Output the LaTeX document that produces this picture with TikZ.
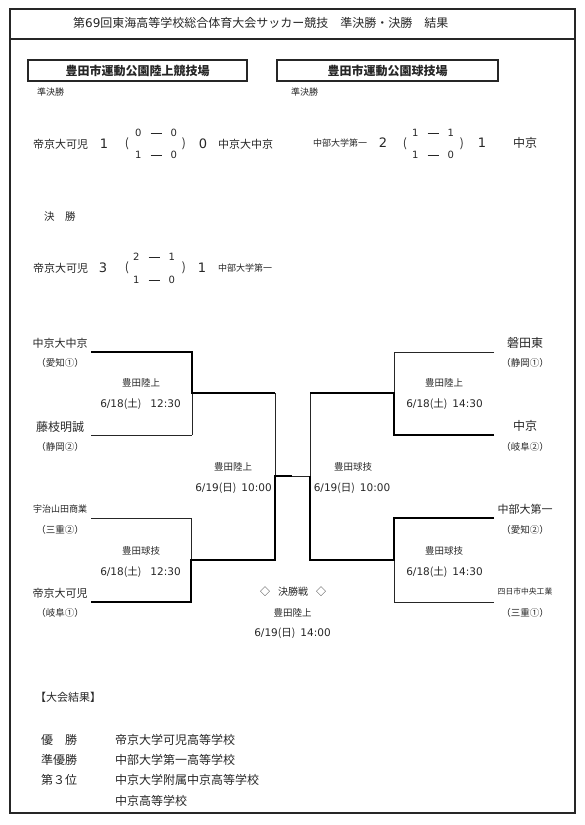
\documentclass[tikz,border=0pt]{standalone}
\usepackage{fontspec}
\setmainfont{Noto Sans CJK JP}
\newfontfamily\numf{DejaVu Sans}
\newcommand{\sdash}{\hspace{9pt}\rule[2.8pt]{11pt}{0.7pt}\hspace{9pt}}
\newcommand{\dte}[3]{{\numf #1}(#2)\hspace{5pt}{\numf #3}}
\begin{document}
\begin{tikzpicture}[x=1pt,y=-1pt,
  txt/.style={inner sep=0pt, text=black!85},
  fs/.style={font=\fontsize{#1}{#1}\selectfont},
  venue/.style={draw=black!85, line width=1.1pt, inner sep=0pt, minimum height=21pt, font=\fontsize{12}{12}\selectfont\bfseries, text=black!85},
  frame/.style={draw=black!85, line width=1.6pt},
  thk/.style={draw=black, line width=2.6pt, line join=miter},
  thn/.style={draw=black!85, line width=0.8pt}
]
\useasboundingbox (0,0) rectangle (584,825);
% frame
\draw[frame] (10,9) rectangle (575,813);
\coordinate (fl) at (10,39);
\coordinate (fr) at (575,39);
\draw[frame] (fl) -- (fr);
\node[txt,fs=12,anchor=west] (title) at (73,23) {第{\numf 69}回東海高等学校総合体育大会サッカー競技　準決勝・決勝　結果};
% venues
\node[venue, minimum width=219pt] (v1) at (137.5,70.5) {豊田市運動公園陸上競技場};
\node[venue, minimum width=221pt] (v2) at (387.5,70.5) {豊田市運動公園球技場};
\node[txt,fs=9,anchor=west] (sf1) at (37,92) {準決勝};
\node[txt,fs=9,anchor=west] (sf2) at (291,92) {準決勝};
% left semifinal score
\node[txt,fs=11,anchor=west] (s1a) at (33,144) {帝京大可児};
\node[txt,fs=13] (s1b) at (104,144) {\numf 1};
\node[txt,fs=12] (s1c) at (127,144) {(};
\node[txt,fs=10] (s1d) at (156,133) {\numf 0\sdash 0};
\node[txt,fs=10] (s1e) at (156,155) {\numf 1\sdash 0};
\node[txt,fs=12] (s1f) at (184,144) {)};
\node[txt,fs=13] (s1g) at (203,144) {\numf 0};
\node[txt,fs=11,anchor=west] (s1h) at (218,144) {中京大中京};
% right semifinal score
\node[txt,fs=9,anchor=west] (s2a) at (313,143) {中部大学第一};
\node[txt,fs=13] (s2b) at (383,143) {\numf 2};
\node[txt,fs=12] (s2c) at (405,144) {(};
\node[txt,fs=10] (s2d) at (433,133) {\numf 1\sdash 1};
\node[txt,fs=10] (s2e) at (433,155) {\numf 1\sdash 0};
\node[txt,fs=12] (s2f) at (462,144) {)};
\node[txt,fs=13] (s2g) at (482,143) {\numf 1};
\node[txt,fs=12,anchor=west] (s2h) at (513,143) {中京};
% final score
\node[txt,fs=10.5,anchor=west] (fin) at (44,217) {決　勝};
\node[txt,fs=11,anchor=west] (f1a) at (33,268) {帝京大可児};
\node[txt,fs=13] (f1b) at (103,268) {\numf 3};
\node[txt,fs=12] (f1c) at (127,268) {(};
\node[txt,fs=10] (f1d) at (154,257) {\numf 2\sdash 1};
\node[txt,fs=10] (f1e) at (154,280) {\numf 1\sdash 0};
\node[txt,fs=12] (f1f) at (184,268) {)};
\node[txt,fs=13] (f1g) at (202,268) {\numf 1};
\node[txt,fs=9,anchor=west] (f1h) at (218,268) {中部大学第一};
% left team names
\node[txt,fs=11] (t1) at (60,343) {中京大中京};
\node[txt,fs=9.5] (p1) at (60,363) {（愛知①）};
\node[txt,fs=12] (t2) at (60,427) {藤枝明誠};
\node[txt,fs=9.5] (p2) at (60,447) {（静岡②）};
\node[txt,fs=9] (t3) at (60,509) {宇治山田商業};
\node[txt,fs=9.5] (p3) at (60,530) {（三重②）};
\node[txt,fs=11] (t4) at (60,593) {帝京大可児};
\node[txt,fs=9.5] (p4) at (60,613) {（岐阜①）};
% right team names
\node[txt,fs=12] (t5) at (525,343) {磐田東};
\node[txt,fs=9.5] (p5) at (525,363) {（静岡①）};
\node[txt,fs=12] (t6) at (525,426) {中京};
\node[txt,fs=9.5] (p6) at (525,447) {（岐阜②）};
\node[txt,fs=11] (t7) at (525,509) {中部大第一};
\node[txt,fs=9.5] (p7) at (525,530) {（愛知②）};
\node[txt,fs=7.8] (t8) at (525,592) {四日市中央工業};
\node[txt,fs=9.5] (p8) at (525,613) {（三重①）};
% match labels
\node[txt,fs=9.5] (m1) at (141,383) {豊田陸上};
\node[txt,fs=10.5] (d1) at (140.5,404) {\dte{6/18}{土}{\hspace{4pt}12:30}};
\node[txt,fs=9.5] (m2) at (141,551) {豊田球技};
\node[txt,fs=10.5] (d2) at (140.5,572) {\dte{6/18}{土}{\hspace{4pt}12:30}};
\node[txt,fs=9.5] (m3) at (444,383) {豊田陸上};
\node[txt,fs=10.5] (d3) at (444.5,404) {\dte{6/18}{土}{14:30}};
\node[txt,fs=9.5] (m4) at (444,551) {豊田球技};
\node[txt,fs=10.5] (d4) at (444.5,572) {\dte{6/18}{土}{14:30}};
\node[txt,fs=9.5] (m5) at (233,467) {豊田陸上};
\node[txt,fs=10.5] (d5) at (233.5,488) {\dte{6/19}{日}{10:00}};
\node[txt,fs=9.5] (m6) at (353,467) {豊田球技};
\node[txt,fs=10.5] (d6) at (352,488) {\dte{6/19}{日}{10:00}};
\node[txt,fs=10] (m7) at (293,592) {◇\hspace{8pt}決勝戦\hspace{8pt}◇};
\node[txt,fs=9.5] (m8) at (292.5,613) {豊田陸上};
\node[txt,fs=10.5] (d8) at (292.5,633) {\dte{6/19}{日}{14:00}};
% bracket coordinates
\coordinate (L1s) at (91,352);  \coordinate (L1e) at (192,352);
\coordinate (L1m) at (192,393); \coordinate (L2e) at (192,435);
\coordinate (L2s) at (91,435);
\coordinate (LS1) at (275,393); \coordinate (LSm) at (275,476);
\coordinate (LS2) at (275,560); \coordinate (Cm) at (292,476);
\coordinate (L3s) at (91,518);  \coordinate (L3e) at (191,518);
\coordinate (L4m) at (191,560); \coordinate (L4e) at (191,602);
\coordinate (L4s) at (91,602);
\coordinate (R1s) at (494,352); \coordinate (R1e) at (394,352);
\coordinate (R1m) at (394,393); \coordinate (R2e) at (394,435);
\coordinate (R2s) at (494,435);
\coordinate (RS1) at (310,393); \coordinate (RSm) at (310,476);
\coordinate (RS2) at (310,560);
\coordinate (R3s) at (494,518); \coordinate (R3e) at (394,518);
\coordinate (R4m) at (394,560); \coordinate (R4e) at (394,602);
\coordinate (R4s) at (494,602);
% thin lines
\draw[thn] (L1e) -- (L2e);
\draw[thn] (L2s) -- (L2e);
\draw[thn] (LS1) -- (LSm);
\draw[thn] (L3s) -- (L3e) -- (L4m);
\draw[thn] (R1s) -- (R1e) -- (R1m);
\draw[thn] (RS1) -- (RSm);
\draw[thn] (RSm) -- (Cm);
\draw[thn] (R4m) -- (R4e) -- (R4s);
% thick lines
\draw[thk] (L1s) -- (L1e) -- (L1m) -- (LS1);
\draw[thk] (L4s) -- (L4e) -- (L4m) -- (LS2) -- (LSm) -- (Cm);
\draw[thk] (R2s) -- (R2e) -- (R1m) -- (RS1);
\draw[thk] (R3s) -- (R3e) -- (R4m) -- (RS2) -- (RSm);
% results
\node[txt,fs=11,anchor=west] (res) at (35,697) {【大会結果】};
\node[txt,fs=12,anchor=west] (r1) at (41,740) {優　勝};
\node[txt,fs=12,anchor=west] (r2) at (41,760) {準優勝};
\node[txt,fs=12,anchor=west] (r3) at (41,780) {第３位};
\node[txt,fs=12,anchor=west] (r1b) at (115,740) {帝京大学可児高等学校};
\node[txt,fs=12,anchor=west] (r2b) at (115,760) {中部大学第一高等学校};
\node[txt,fs=12,anchor=west] (r3b) at (115,780) {中京大学附属中京高等学校};
\node[txt,fs=12,anchor=west] (r4b) at (115,801) {中京高等学校};
\end{tikzpicture}
\end{document}
